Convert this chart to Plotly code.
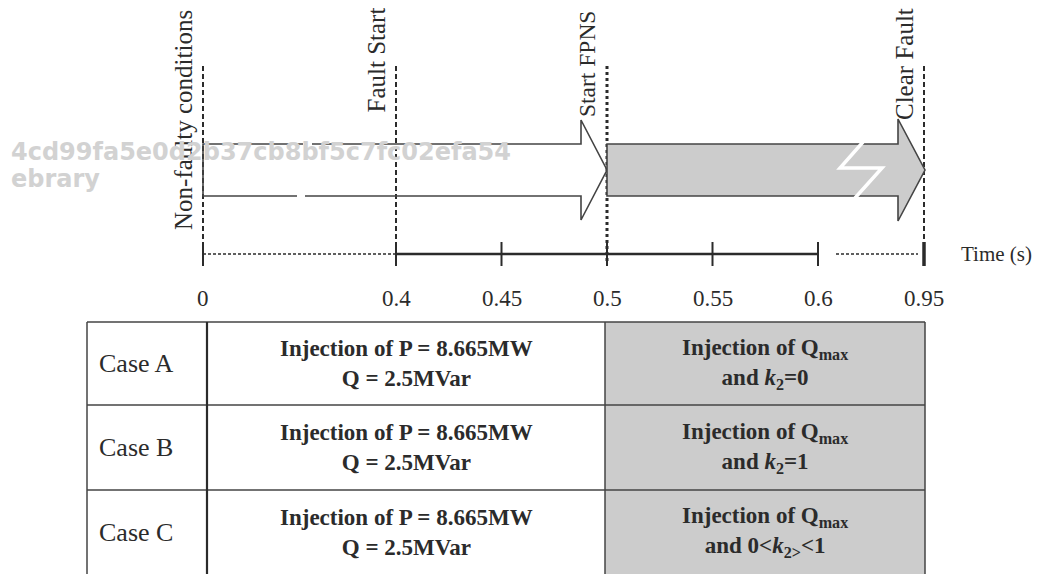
import numpy as np
import plotly.graph_objects as go

# events on the time line and the labels written above them
event_labels = ["Non-faulty conditions", "Fault Start", "Start FPNS", "Clear Fault"]
event_times = [0, 0.4, 0.5, 0.95]

# time axis ticks
tick_times = [0, 0.4, 0.45, 0.5, 0.55, 0.6, 0.95]
tick_labels = ["0", "0.4", "0.45", "0.5", "0.55", "0.6", "0.95"]
axis_title = "Time (s)"

# table under the time line
cases = ["Case A", "Case B", "Case C"]
normal_text = ["<b>Injection of P = 8.665MW<br>Q = 2.5MVar</b>"] * 3
fpns_text = [
    "<b>Injection of Q<sub>max</sub><br>and <i>k</i><sub>2</sub>=0</b>",
    "<b>Injection of Q<sub>max</sub><br>and <i>k</i><sub>2</sub>=1</b>",
    "<b>Injection of Q<sub>max</sub><br>and 0&lt;<i>k</i><sub>2&gt;</sub>&lt;1</b>",
]
watermark = ["4cd99fa5e0d2b37cb8bf5c7fc02efa54", "ebrary"]

SERIF = "Liberation Serif, Times New Roman, serif"
INK = "#2b2b2b"
GREY = "#cccccc"

# broken time scale: 0-0.4 and 0.6-0.95 are compressed
break_times = [0, 0.4, 0.6, 0.95]
break_px = [203, 396, 818, 924]

# the page body has an 8px margin, so the canvas starts at (8, 8)
PAGE_OFF = 8


def tx(t):
    return float(np.interp(t, break_times, break_px))


fig = go.Figure()
fig.add_trace(go.Scatter(x=[PAGE_OFF, 1040], y=[PAGE_OFF, 574], mode="markers",
                         marker={"opacity": 0}, hoverinfo="skip", showlegend=False))

shapes = []
annotations = []

# vertical event markers
label_bottom = {"Non-faulty conditions": 231, "Fault Start": 114,
                "Start FPNS": 118, "Clear Fault": 121}
label_size = {"Non-faulty conditions": 25, "Fault Start": 25,
              "Start FPNS": 23.5, "Clear Fault": 25}
for i, t in enumerate(event_times):
    x = tx(t)
    name = event_labels[i]
    if name == "Start FPNS":
        line = {"color": INK, "width": 3, "dash": "3px,3px"}
    else:
        line = {"color": INK, "width": 2, "dash": "5px,3px"}
    shapes.append({"type": "line", "x0": x, "x1": x, "y0": 66, "y1": 262, "line": line})
    annotations.append({"x": x - 20, "y": label_bottom[name], "text": name,
                        "textangle": -90, "xanchor": "center", "yanchor": "bottom",
                        "showarrow": False, "borderpad": 0,
                        "font": {"family": SERIF, "size": label_size[name], "color": INK}})

# white arrow (normal operation), with a small break in its body
x_a, x_b, x_c = tx(event_times[0]), tx(event_times[2]), tx(event_times[3])
top, bot, htop, hbot = 144, 196, 120, 220
mid = (top + bot) / 2
head = 26
shapes.append({"type": "path",
               "path": (f"M 303,{top} L {x_a},{top} L {x_a},{bot} L 297,{bot} "
                        f"M 305,{bot} L {x_b - head},{bot} L {x_b - head},{hbot} L {x_b},{mid} "
                        f"L {x_b - head},{htop} L {x_b - head},{top} L 312,{top}"),
               "line": {"color": "#444444", "width": 1.6}})

# grey arrow (FPNS active)
shapes.append({"type": "path",
               "path": (f"M {x_b},{top} L {x_c - head},{top} L {x_c - head},{htop - 1} L {x_c + 1},{mid} "
                        f"L {x_c - head},{hbot + 1} L {x_c - head},{bot} L {x_b},{bot} Z"),
               "fillcolor": GREY, "line": {"color": "#444444", "width": 1.6}})
shapes.append({"type": "path",
               "path": f"M 863,{top - 2} L 840,{mid - 2} L 882,{mid - 2} L 855,{bot + 2}",
               "line": {"color": "white", "width": 3.5}})

# time line
y_tl = 254
shapes.append({"type": "line", "x0": tx(0), "x1": tx(0.4), "y0": y_tl, "y1": y_tl,
               "line": {"color": INK, "width": 1.5, "dash": "3px,2px"}})
shapes.append({"type": "line", "x0": tx(0.4), "x1": tx(0.6), "y0": y_tl, "y1": y_tl,
               "line": {"color": INK, "width": 2.5}})
shapes.append({"type": "line", "x0": tx(0.6) + 18, "x1": tx(0.95) - 6, "y0": y_tl, "y1": y_tl,
               "line": {"color": INK, "width": 1.5, "dash": "3px,2px"}})
for t, lab in zip(tick_times, tick_labels):
    x = tx(t)
    w = 3.5 if t == tick_times[-1] else 2
    shapes.append({"type": "line", "x0": x, "x1": x, "y0": 242, "y1": 266,
                   "line": {"color": INK, "width": w}})
    annotations.append({"x": x, "y": 298, "text": lab, "showarrow": False,
                        "xanchor": "center", "yanchor": "middle",
                        "font": {"family": SERIF, "size": 23, "color": INK}})
annotations.append({"x": 959, "y": y_tl, "text": axis_title, "showarrow": False,
                    "xanchor": "left", "yanchor": "middle",
                    "font": {"family": SERIF, "size": 21, "color": INK}})

# table
row_edges = [322, 405, 490, 600]
col_edges = [87, 207, 605, 925]
shapes.append({"type": "rect", "x0": col_edges[2], "x1": col_edges[3], "y0": row_edges[0],
               "y1": row_edges[-1], "fillcolor": GREY, "line": {"width": 0}, "layer": "below"})
for y in row_edges[:-1]:
    shapes.append({"type": "line", "x0": col_edges[0], "x1": col_edges[-1], "y0": y, "y1": y,
                   "line": {"color": "#444444", "width": 1.5}})
for j, x in enumerate(col_edges):
    shapes.append({"type": "line", "x0": x, "x1": x, "y0": row_edges[0], "y1": row_edges[-1],
                   "line": {"color": INK if j == 1 else "#444444", "width": 2.2 if j == 1 else 1.5}})

for i, case in enumerate(cases):
    yc = (row_edges[i] + min(row_edges[i + 1], 574)) / 2
    annotations.append({"x": 97, "y": yc, "text": case, "showarrow": False,
                        "xanchor": "left", "yanchor": "middle",
                        "font": {"family": SERIF, "size": 26, "color": INK}})
    annotations.append({"x": (col_edges[1] + col_edges[2]) / 2, "y": yc, "text": normal_text[i],
                        "showarrow": False, "xanchor": "center", "yanchor": "middle",
                        "font": {"family": SERIF, "size": 23, "color": INK}})
    annotations.append({"x": (col_edges[2] + col_edges[3]) / 2, "y": yc, "text": fpns_text[i],
                        "showarrow": False, "xanchor": "center", "yanchor": "middle",
                        "font": {"family": SERIF, "size": 23, "color": INK}})

# watermark (starts at the left edge of the canvas)
for k, w in enumerate(watermark):
    annotations.append({"x": PAGE_OFF + 1, "y": 152 + 27 * k, "text": f"<b>{w}</b>",
                        "showarrow": False, "xanchor": "left", "yanchor": "middle",
                        "font": {"family": "DejaVu Sans", "size": 24, "color": "#d2d2d2"}})

fig.update_layout(
    width=1040 - PAGE_OFF, height=574 - PAGE_OFF,
    margin={"l": 0, "r": 0, "t": 0, "b": 0},
    paper_bgcolor="white", plot_bgcolor="white",
    xaxis={"range": [PAGE_OFF, 1040], "visible": False, "fixedrange": True},
    yaxis={"range": [574, PAGE_OFF], "visible": False, "fixedrange": True},
    shapes=shapes, annotations=annotations,
    showlegend=False,
)
fig.write_html("out.html")
